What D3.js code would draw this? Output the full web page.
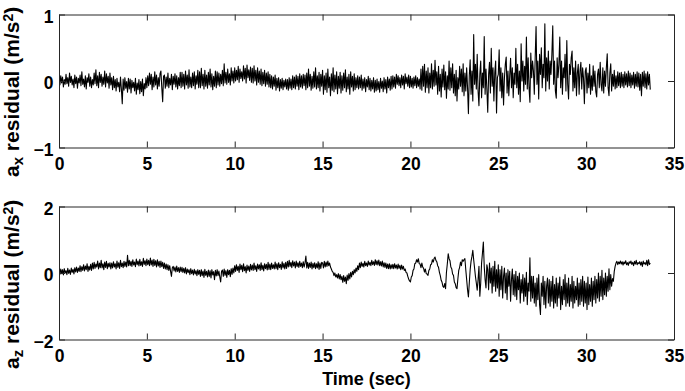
<!DOCTYPE html>
<html>
<head>
<meta charset="utf-8">
<script src="https://cdn.jsdelivr.net/npm/d3@7"></script>
<style>
  html, body { margin: 0; padding: 0; background: #fff; }
  svg { display: block; }
  text { font-family: "Liberation Sans", Arial, Helvetica, sans-serif; font-weight: bold; fill: #000; }
</style>
</head>
<body>
<svg id="chart" width="685" height="391"></svg>
<script>
// ---------------- DATA ----------------
const sampleStep = 0.05;           // seconds between samples (start at 0 s)
const xTicks = [0, 5, 10, 15, 20, 25, 30, 35];
const yTicksAx = [-1, 0, 1];
const yTicksAz = [-2, 0, 2];
const xLabel = "Time (sec)";

// a_x residual (m/s^2), one row per second (20 samples)
const axResidual = [
  0.04,-0.06,0.08,-0.03,0.06,-0.09,0.02,-0.05,0.1,-0.04,0.05,-0.08,0.12,-0.02,0.07,-0.06,0.03,-0.1,0.09,-0.04,
  0.06,-0.11,0.04,-0.03,0.09,-0.07,0.14,-0.05,0.03,-0.09,0.08,-0.12,0.05,-0.02,0.11,-0.08,0.06,-0.1,0.02,-0.06,
  0.12,-0.04,0.17,-0.07,0.08,-0.1,0.13,-0.02,0.1,-0.08,0.06,-0.05,0.15,-0.09,0.11,-0.03,0.07,-0.11,0.12,-0.06,
  0.05,-0.13,0.07,-0.1,0.02,-0.15,0.04,-0.09,-0.02,-0.16,0.06,-0.12,-0.34,0.03,-0.14,0.05,-0.11,-0.01,-0.17,0.04,
  -0.12,0.03,-0.18,0.01,-0.1,-0.02,-0.15,0.04,-0.2,-0.03,-0.13,0.02,-0.19,-0.01,-0.16,0.03,-0.22,-0.04,-0.12,0.05,
  -0.1,0.08,-0.07,0.12,-0.05,0.1,-0.13,0.06,-0.09,0.14,-0.06,0.09,-0.12,0.05,-0.08,0.11,0.15,-0.1,-0.31,0.07,
  0.09,-0.11,0.06,-0.08,0.12,-0.1,0.04,-0.06,0.1,-0.13,0.07,-0.05,0.11,-0.09,0.08,-0.12,0.05,-0.07,0.13,-0.1,
  0.13,-0.08,0.1,-0.12,0.15,-0.06,0.09,-0.11,0.17,-0.09,0.06,-0.1,0.12,-0.07,0.14,-0.12,0.08,-0.05,0.16,-0.1,
  0.14,-0.1,0.19,-0.07,0.1,-0.12,0.16,-0.08,0.09,-0.11,0.13,-0.06,0.18,-0.09,0.11,-0.13,0.07,-0.08,0.15,-0.1,
  0.14,-0.06,0.12,-0.08,0.1,-0.04,0.16,-0.07,0.26,-0.03,0.13,-0.05,0.18,-0.02,0.11,-0.06,0.2,0.0,0.15,-0.03,
  0.2,0.0,0.16,0.02,0.22,-0.02,0.18,0.04,0.14,0.0,0.23,0.03,0.19,-0.03,0.24,0.05,0.17,0.01,0.21,-0.02,
  0.19,-0.03,0.23,0.0,0.16,-0.06,0.2,-0.02,0.15,-0.05,0.18,-0.07,0.13,-0.04,0.16,-0.08,0.12,-0.05,0.14,-0.09,
  0.1,-0.1,0.08,-0.12,0.06,-0.08,0.09,-0.14,0.04,-0.1,0.05,-0.15,0.02,-0.11,0.04,-0.13,0.01,-0.09,0.03,-0.12,
  0.02,-0.14,0.05,-0.11,0.03,-0.13,0.08,-0.1,0.06,-0.12,0.09,-0.08,0.07,-0.13,0.11,-0.09,0.08,-0.11,0.1,-0.07,
  0.09,-0.13,0.12,-0.1,0.18,-0.08,0.1,-0.14,0.07,-0.11,0.14,-0.09,0.2,-0.12,0.08,-0.1,0.13,-0.15,0.1,-0.08,
  0.16,-0.2,0.08,-0.13,0.12,-0.17,0.18,-0.1,0.06,-0.22,0.11,-0.14,0.2,-0.16,0.09,-0.12,0.14,-0.19,0.07,-0.11,
  0.13,-0.18,0.08,-0.14,0.12,-0.1,0.17,-0.16,0.06,-0.12,0.1,-0.2,0.14,-0.09,0.07,-0.15,0.11,-0.13,0.05,-0.1,
  0.08,-0.12,0.06,-0.1,0.09,-0.14,0.03,-0.11,0.05,-0.16,0.02,-0.09,0.07,-0.13,0.04,-0.15,0.01,-0.12,0.05,-0.17,
  0.01,-0.15,0.03,-0.13,-0.01,-0.17,0.04,-0.11,0.0,-0.16,0.05,-0.12,0.02,-0.18,0.06,-0.1,0.03,-0.14,0.07,-0.12,
  0.08,-0.09,0.06,-0.11,0.1,-0.05,0.08,-0.07,0.05,-0.1,0.09,-0.06,0.07,-0.12,0.11,-0.04,0.06,-0.08,0.09,-0.1,
  0.07,-0.09,0.04,-0.11,0.06,-0.07,0.08,-0.1,0.05,-0.08,0.03,-0.12,0.18,-0.14,0.22,-0.08,0.25,-0.17,0.15,-0.1,
  0.2,-0.18,0.12,-0.1,0.26,-0.12,0.16,-0.08,0.31,-0.06,0.14,-0.2,0.22,-0.15,0.1,-0.24,0.18,-0.09,0.24,-0.13,
  0.14,-0.26,0.08,-0.12,0.3,-0.14,0.2,-0.1,0.26,-0.18,0.1,-0.22,0.16,-0.3,0.05,-0.12,0.22,-0.08,0.18,-0.16,
  0.26,-0.22,0.12,-0.15,0.2,-0.1,-0.49,0.08,0.32,-0.2,0.15,-0.3,0.7,-0.05,0.25,-0.12,0.4,-0.15,-0.37,0.1,
  0.3,-0.25,0.12,-0.1,0.67,-0.2,0.18,-0.12,-0.47,0.1,0.28,-0.18,0.49,-0.08,0.2,-0.3,0.12,0.3,-0.48,0.05,
  0.1,0.47,-0.15,0.2,-0.25,0.12,-0.36,0.05,0.25,0.36,-0.18,0.15,-0.22,0.08,0.34,-0.1,0.2,-0.25,0.12,-0.05,
  0.49,-0.1,0.25,-0.2,0.15,-0.31,0.56,0.0,0.3,-0.15,0.22,-0.05,0.66,-0.12,0.35,-0.1,-0.32,0.42,0.05,0.3,
  0.15,-0.2,0.35,0.82,-0.05,0.3,-0.27,0.4,0.1,0.5,-0.1,0.25,0.05,0.86,-0.15,0.35,0.0,0.45,-0.12,0.3,
  0.1,0.4,0.83,-0.05,0.3,-0.15,-0.26,0.35,0.05,0.25,0.66,-0.1,0.3,-0.2,0.2,0.05,0.4,-0.15,0.61,-0.05,
  -0.27,0.25,0.1,0.35,0.45,-0.15,0.2,-0.1,0.3,-0.22,0.12,0.25,-0.2,0.15,0.28,-0.12,0.2,0.05,-0.34,0.15,
  0.2,-0.18,0.12,-0.1,0.25,-0.2,0.08,-0.14,0.23,-0.08,0.15,-0.16,-0.24,0.1,0.18,-0.1,0.28,-0.05,-0.15,0.2,
  -0.18,0.15,-0.08,0.2,0.41,-0.1,-0.22,0.12,0.26,-0.15,0.1,-0.08,0.16,-0.12,0.08,-0.1,0.14,-0.07,0.12,-0.1,
  0.13,-0.08,0.1,-0.1,0.14,-0.06,0.11,-0.09,0.15,-0.07,0.12,-0.1,0.09,-0.06,0.13,-0.11,0.1,-0.08,0.14,-0.09,
  0.12,-0.14,0.1,-0.22,0.13,-0.08,0.15,-0.1,0.11,-0.12,0.14,-0.06,0.1,-0.13
];

// a_z residual (m/s^2), one row per second (20 samples)
const azResidual = [
  0.08,-0.04,0.12,-0.02,0.1,-0.06,0.13,0.0,0.07,-0.05,0.14,-0.01,0.09,-0.04,0.15,0.02,0.11,-0.03,0.16,0.03,
  0.18,0.02,0.15,0.05,0.22,0.04,0.19,0.08,0.25,0.06,0.21,0.1,0.28,0.05,0.2,0.09,0.26,0.08,0.3,0.12,
  0.32,0.14,0.27,0.18,0.36,0.12,0.3,0.16,0.38,0.15,0.28,0.1,0.33,0.17,0.35,0.13,0.29,0.18,0.31,0.12,
  0.3,0.15,0.34,0.18,0.28,0.12,0.36,0.17,0.31,0.14,0.38,0.19,0.3,0.16,0.35,0.2,0.33,0.18,0.53,0.22,
  0.38,0.22,0.35,0.2,0.4,0.24,0.33,0.19,0.42,0.25,0.36,0.21,0.41,0.23,0.34,0.2,0.44,0.26,0.37,0.22,
  0.42,0.25,0.38,0.22,0.45,0.24,0.39,0.2,0.41,0.23,0.37,0.18,0.4,0.21,0.35,0.17,0.36,0.19,0.32,0.14,
  0.3,0.12,0.27,0.1,0.25,0.08,0.22,0.05,-0.1,0.16,0.2,0.06,0.18,0.03,0.21,0.05,0.16,0.02,0.18,0.04,
  0.17,0.02,0.14,0.0,0.16,-0.03,0.12,0.01,0.1,-0.05,0.13,-0.02,0.09,-0.06,0.11,-0.03,0.07,-0.08,0.1,-0.04,
  0.08,-0.1,0.1,-0.08,0.06,-0.13,0.11,-0.07,0.05,-0.12,0.09,-0.1,0.07,-0.15,0.1,-0.06,0.04,-0.2,0.08,-0.09,
  0.1,-0.08,0.06,-0.12,-0.27,0.05,0.09,-0.1,0.12,-0.07,0.07,-0.13,0.1,-0.05,0.08,-0.11,0.13,-0.04,0.15,0.0,
  0.22,0.05,0.25,0.08,0.2,0.02,0.27,0.1,0.23,0.04,0.28,0.07,0.19,0.0,0.24,0.08,0.21,0.05,0.26,0.09,
  0.24,0.08,0.3,0.1,0.22,0.05,0.27,0.12,0.25,0.08,0.31,0.1,0.23,0.06,0.28,0.13,0.26,0.09,0.32,0.11,
  0.27,0.1,0.3,0.14,0.25,0.12,0.33,0.13,0.28,0.1,0.31,0.16,0.26,0.11,0.34,0.15,0.29,0.12,0.32,0.14,
  0.35,0.18,0.38,0.2,0.32,0.16,0.37,0.21,0.33,0.15,0.36,0.19,0.31,0.17,0.35,0.2,0.3,0.16,0.34,0.18,
  0.3,0.51,0.15,0.32,0.14,0.3,0.17,0.33,0.12,0.29,0.16,0.31,0.13,0.28,0.15,0.34,0.11,0.3,0.14,0.32,
  0.3,0.15,0.35,0.18,0.33,0.2,0.36,0.22,0.3,0.18,0.12,0.05,0.02,-0.08,0.0,-0.12,-0.05,-0.15,-0.02,-0.18,
  -0.05,-0.2,-0.1,-0.28,-0.08,-0.25,-0.12,-0.32,-0.06,-0.22,-0.02,-0.18,0.02,-0.12,0.05,-0.05,0.1,0.0,0.15,0.05,
  0.22,0.1,0.3,0.16,0.33,0.2,0.29,0.18,0.35,0.22,0.3,0.2,0.36,0.24,0.32,0.22,0.38,0.25,0.34,0.23,
  0.4,0.25,0.37,0.24,0.39,0.22,0.34,0.21,0.36,0.18,0.31,0.17,0.3,0.14,0.27,0.13,0.28,0.12,0.25,0.14,
  0.26,0.13,0.28,0.15,0.24,0.12,0.27,0.14,0.23,0.1,0.24,0.12,0.2,0.08,0.12,0.02,0.0,-0.1,-0.18,-0.24,
  -0.27,-0.12,-0.08,0.08,0.12,0.28,0.3,0.4,0.33,0.43,0.28,0.27,0.16,0.3,0.18,0.14,0.03,0.12,-0.02,-0.03,
  -0.07,0.08,0.12,0.25,0.27,0.4,0.33,0.44,0.48,0.38,0.34,0.22,0.17,0.02,-0.08,-0.22,-0.28,-0.4,-0.43,-0.32,
  -0.47,0.02,0.28,0.58,0.43,0.37,0.18,0.13,-0.03,-0.07,-0.27,-0.32,-0.44,-0.47,-0.18,0.08,0.17,0.33,0.22,0.4,
  0.35,0.4,0.43,0.1,-0.2,-0.5,-0.72,-0.3,0.1,0.35,0.5,0.68,0.4,0.15,-0.1,-0.3,-0.52,-0.2,0.2,-0.7,
  -0.3,0.3,0.6,0.93,0.2,-0.2,-0.45,0.25,0.1,-0.5,0.3,-0.3,0.15,-0.6,0.2,-0.4,0.35,-0.55,0.1,-0.45,
  0.25,-0.7,0.1,-0.5,0.2,-0.75,-0.1,0.15,-0.6,0.0,-0.8,0.1,-0.4,0.05,-0.85,-0.2,0.12,-0.65,-0.05,-0.7,
  0.05,-0.8,-0.1,-0.5,0.0,-0.9,-0.2,-0.6,-0.05,-0.85,-0.15,-0.7,0.02,-0.95,-0.3,-0.55,0.46,-0.85,-0.1,-0.75,
  -0.1,-0.9,-0.3,-1.0,-0.15,-0.8,-0.05,-0.95,-1.25,-0.3,-0.7,-0.1,-0.95,-0.25,-1.05,-0.4,-0.15,-0.9,-0.2,-1.0,
  -0.25,-0.85,-0.1,-1.05,-0.35,-0.9,-0.15,-1.0,-0.3,-0.75,-0.12,-1.1,-0.4,-0.95,-0.2,-0.8,-0.05,-1.0,-0.3,-0.9,
  -0.15,-1.0,-0.35,-0.85,-0.1,-1.05,-0.25,-0.9,-0.4,-0.8,-0.15,-1.0,-0.3,-0.95,-0.2,-0.85,-0.1,-1.0,-0.25,-0.9,
  -0.3,-1.1,-0.12,-0.95,-0.35,-0.85,-0.15,-1.0,-0.25,-0.8,-0.1,-0.9,-0.2,-0.75,0.0,-0.85,-0.1,-0.7,0.08,-0.8,
  -0.15,-0.65,0.0,-0.7,-0.1,-0.55,0.13,-0.5,-0.05,-0.4,-0.17,-0.25,0.05,0.2,0.3,0.35,0.25,0.33,0.28,0.36,
  0.27,0.34,0.24,0.33,0.28,0.37,0.25,0.31,0.23,0.34,0.29,0.36,0.26,0.32,0.22,0.35,0.27,0.38,0.25,0.31,
  0.28,0.34,0.24,0.33,0.2,0.36,0.27,0.31,0.25,0.38,0.22,0.4,0.26,0.3
];

// ---------------- DRAW ----------------
const svg = d3.select("#chart");
const x = d3.scaleLinear().domain([0, 35]).range([59, 674]);

const panels = [
  { values: axResidual, domain: [-1, 1], ticks: yTicksAx, top: 14.5, bottom: 147.5, sub: "x", labelStart: 177 },
  { values: azResidual, domain: [-2, 2], ticks: yTicksAz, top: 206.5, bottom: 339.5, sub: "z", labelStart: 369 }
];

const axisColor = "#262626";
const tickLen = 6;
const fontStack = '"Liberation Sans", Arial, sans-serif';

panels.forEach((p, pi) => {
  const y = d3.scaleLinear().domain(p.domain).range([p.bottom, p.top]);
  const g = svg.append("g");

  const clipId = "clip" + pi;
  svg.append("clipPath").attr("id", clipId)
    .append("rect").attr("x", x(0)).attr("y", p.top).attr("width", x(35) - x(0)).attr("height", p.bottom - p.top);

  const line = d3.line()
    .x((d, i) => x(i * sampleStep))
    .y(d => y(d));
  g.append("path")
    .datum(p.values)
    .attr("clip-path", `url(#${clipId})`)
    .attr("d", line)
    .attr("fill", "none")
    .attr("stroke", "#000")
    .attr("stroke-width", 1.1)
    .attr("stroke-linejoin", "round");

  const bottomAxis = d3.axisBottom(x).tickValues(xTicks).tickSizeInner(-tickLen).tickSizeOuter(0).tickFormat(d3.format("d"));
  const topAxis = d3.axisTop(x).tickValues(xTicks).tickSizeInner(-tickLen).tickSizeOuter(0).tickFormat("");
  const leftAxis = d3.axisLeft(y).tickValues(p.ticks).tickSizeInner(-tickLen).tickSizeOuter(0).tickFormat(d3.format("d"));
  const rightAxis = d3.axisRight(y).tickValues(p.ticks).tickSizeInner(-tickLen).tickSizeOuter(0).tickFormat("");

  const gb = g.append("g").attr("transform", `translate(0,${p.bottom})`).call(bottomAxis);
  const gt = g.append("g").attr("transform", `translate(0,${p.top})`).call(topAxis);
  const gl = g.append("g").attr("transform", `translate(${x(0)},0)`).call(leftAxis);
  const gr = g.append("g").attr("transform", `translate(${x(35)},0)`).call(rightAxis);

  [gb, gt, gl, gr].forEach(ax => {
    ax.select(".domain").attr("stroke", axisColor).attr("stroke-width", 1);
    ax.selectAll(".tick line").attr("stroke", axisColor).attr("stroke-width", 1);
  });

  gb.selectAll(".tick text")
    .attr("y", 22).attr("dy", null)
    .style("font-size", "17.5px")
    .style("font-family", fontStack)
    .style("font-weight", "bold")
    .attr("fill", "#000");
  gl.selectAll(".tick text")
    .attr("x", -5.5).attr("dy", null).attr("y", 7.5)
    .style("font-size", "17.5px")
    .style("font-family", fontStack)
    .style("font-weight", "bold")
    .attr("fill", "#000");

  const lab = svg.append("text")
    .attr("transform", `translate(19,${p.labelStart}) rotate(-90)`)
    .attr("text-anchor", "start")
    .style("font-size", "21px");
  lab.append("tspan").text("a");
  lab.append("tspan").attr("dy", 4).style("font-size", "15px").text(p.sub);
  lab.append("tspan").attr("dy", -4).text(" residual (m/s");
  lab.append("tspan").attr("dy", -6).style("font-size", "14px").text("2");
  lab.append("tspan").attr("dy", 6).text(")");
});

svg.append("text")
  .attr("x", x(17.5))
  .attr("y", 385)
  .attr("text-anchor", "middle")
  .style("font-size", "18px")
  .text(xLabel);
</script>
</body>
</html>
